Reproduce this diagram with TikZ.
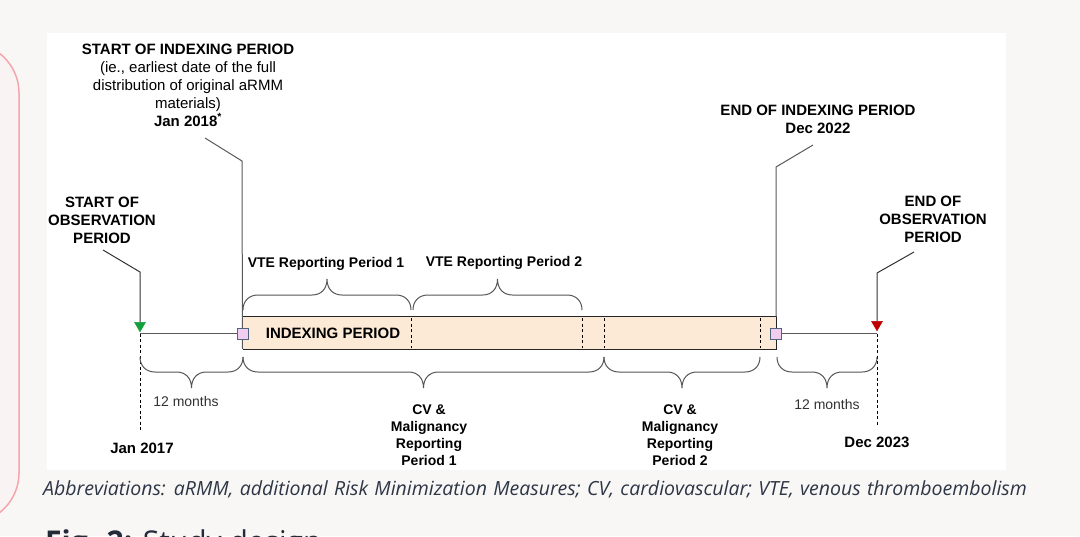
\documentclass[tikz,border=0pt]{standalone}
\usepackage{fontspec}
\setmainfont{Liberation Sans}
\newfontfamily\capfont{Open Sans}
\newfontfamily\capifont[WordSpace=1.25]{Open Sans Italic}
\usetikzlibrary{shapes.geometric}
\definecolor{pagebg}{HTML}{F8F7F5}
\definecolor{pinkline}{HTML}{F4A6AC}
\definecolor{pinkfill}{HTML}{F9F3F3}
\definecolor{peach}{HTML}{FDEAD6}
\definecolor{sqfill}{HTML}{F1CDEF}
\definecolor{sqborder}{HTML}{506480}
\definecolor{linegray}{HTML}{5A5A5A}
\definecolor{bracegray}{HTML}{555555}
\definecolor{txtgray}{HTML}{333333}
\definecolor{capcol}{HTML}{2D3646}
\definecolor{greentri}{HTML}{13A03C}
\definecolor{redtri}{HTML}{C00000}
\newcommand{\hbrace}[4]{%
  \pgfmathsetmacro\brmid{(#1+#2)/2}%
  \draw[bracestyle] (#1,#3) .. controls (#1,{#3+#4*9}) and ({#1+6},{#3+#4*15}) .. ({#1+15},{#3+#4*15})
    -- ({\brmid-15},{#3+#4*15}) .. controls ({\brmid-6},{#3+#4*15}) and (\brmid,{#3+#4*21}) .. (\brmid,{#3+#4*31})
    .. controls (\brmid,{#3+#4*21}) and ({\brmid+6},{#3+#4*15}) .. ({\brmid+15},{#3+#4*15})
    -- ({#2-15},{#3+#4*15}) .. controls ({#2-6},{#3+#4*15}) and (#2,{#3+#4*9}) .. (#2,#3);%
}
\begin{document}
\begin{tikzpicture}[x=1pt,y=-1pt,
  hd/.style={font=\fontsize{15}{18}\selectfont, align=center, text=black, inner sep=0},
  lab/.style={font=\bfseries\fontsize{14}{17}\selectfont, align=center, text=black, inner sep=0},
  reg/.style={font=\fontsize{14}{17}\selectfont, text=txtgray, inner sep=0},
  callout/.style={draw=linegray, line width=1pt},
  bracestyle/.style={draw=bracegray, line width=1pt},
  vdash/.style={draw=black, dash pattern=on 3pt off 2.5pt, line width=0.8pt},
  sq/.style={draw=sqborder, fill=sqfill, minimum size=11pt, inner sep=0, line width=1pt},
  tri/.style={regular polygon, regular polygon sides=3, shape border rotate=180, minimum size=12.7pt, inner sep=0, draw=#1, fill=#1},
  boxline/.style={draw=black!85, line width=1pt},
]
\useasboundingbox (0,0) rectangle (1080,536);
\fill[pagebg] (0,0) rectangle (1080,536);
% left pink panel
\draw[draw=pinkline, fill=pinkfill, line width=1.5pt, rounded corners=50pt] (-200,43) rectangle (19,523);
% white diagram panel
\fill[white] (47,33) rectangle (1006,470);

% callout texts
\node[hd] (sip) at (188,85) {\textbf{START OF INDEXING PERIOD}\\(ie., earliest date of the full\\distribution of original aRMM\\materials)\\\textbf{Jan 2018}\textsuperscript{\textbf{*}}};
\node[hd, font=\bfseries\fontsize{15}{18}\selectfont] (sop) at (102,220) {START OF\\OBSERVATION\\PERIOD};
\node[hd, font=\bfseries\fontsize{15}{18}\selectfont] (eip) at (818,119) {END OF INDEXING PERIOD\\Dec 2022};
\node[hd, font=\bfseries\fontsize{15}{18}\selectfont] (eop) at (933,219) {END OF\\OBSERVATION\\PERIOD};

% indexing box
\node[fill=peach, minimum width=533pt, minimum height=32pt, inner sep=0] (ibox) at (509.5,333) {};
\draw[boxline] (ibox.north west) -- (ibox.north east) -- (ibox.south east) -- (ibox.south west);
\foreach \xx in {411,582,604,760} \draw[vdash] (\xx,318) -- (\xx,348);
\node[hd, font=\bfseries\fontsize{15}{18}\selectfont] (iptext) at (333,333) {INDEXING PERIOD};

% triangles
\node[tri=greentri] (gt) at (140,325.5) {};
\node[tri=redtri] (rt) at (877,324.5) {};

% callout connectors
\coordinate (sipA) at (205,138);
\coordinate (sipB) at (242,161);
\coordinate (sipC) at (242.5,349);
\draw[callout] (sipA) -- (sipB) -- (sipC);
\coordinate (eipA) at (813,145);
\coordinate (eipB) at (776,167);
\coordinate (eipC) at (776,317);
\draw[callout] (eipA) -- (eipB) -- (eipC);
\coordinate (sopA) at (103,250);
\coordinate (sopB) at (140,272);
\draw[callout, draw=black!80] (sopA) -- (sopB) -- (gt);
\coordinate (eopA) at (914,252);
\coordinate (eopB) at (877,273);
\draw[callout, draw=black!80] (eopA) -- (eopB) -- (rt);

% squares
\node[sq] (sqL) at (242.5,333.5) {};
\node[sq] (sqR) at (775.5,333.5) {};

% timeline
\coordinate (tlL) at (140,333.5);
\coordinate (tlR) at (877,333.5);
\draw[callout] (tlL) -- (sqL);
\draw[callout] (sqR) -- (tlR);
\coordinate (dL) at (140,430);
\coordinate (dR) at (877,425);
\draw[vdash] (tlL) -- (dL);
\draw[vdash] (tlR) -- (dR);

% braces
\hbrace{243}{411}{310}{-1}
\hbrace{413}{582}{310}{-1}
\hbrace{140}{243}{357}{1}
\hbrace{243}{604}{357}{1}
\hbrace{604}{760}{357}{1}
\hbrace{777}{877}{357}{1}

% labels
\node[lab] (vte1) at (326,264) {VTE Reporting Period 1};
\node[lab] (vte2) at (504,263) {VTE Reporting Period 2};
\node[reg] (m1) at (186,401) {12 months};
\node[reg] (m2) at (827,404) {12 months};
\node[lab, font=\bfseries\fontsize{15}{18}\selectfont] (jan17) at (142,448) {Jan 2017};
\node[lab, font=\bfseries\fontsize{15}{18}\selectfont] (dec23) at (877,442) {Dec 2023};
\node[lab] (cv1) at (429,435.5) {CV \&\\Malignancy\\Reporting\\Period 1};
\node[lab] (cv2) at (680,435.5) {CV \&\\Malignancy\\Reporting\\Period 2};

% caption and heading
\node[anchor=base west, inner sep=0, text=capcol, font=\capifont\fontsize{19.5}{22}\selectfont] (cap) at (43,495) {Abbreviations: aRMM, additional Risk Minimization Measures; CV, cardiovascular; VTE, venous thromboembolism};
\node[anchor=base west, inner sep=0, text=capcol!80!black, font=\capfont\fontsize{30}{36}\selectfont] (fig) at (45,552) {\textbf{Fig. 2:} Study design};
\end{tikzpicture}
\end{document}
